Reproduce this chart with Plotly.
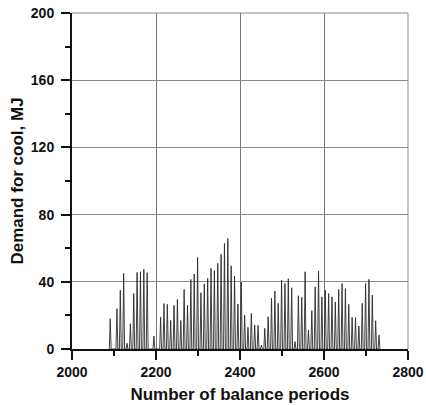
import plotly.graph_objects as go

# Daily peak of cooling demand (MJ); one peak every 8 balance periods
first_period = 2091
period_step = 8
daily_peaks = [
    18.0, 0.0, 24.0, 35.0, 45.0, 3.4, 15.0, 33.0, 45.6, 46.0,
    47.4, 45.4, 0.0, 7.7, 0.0, 19.0, 27.0, 26.6, 17.0, 26.0,
    29.5, 17.0, 35.5, 26.0, 41.4, 44.6, 54.5, 33.5, 38.7, 42.0,
    48.0, 46.6, 51.0, 56.3, 62.8, 65.8, 49.5, 43.4, 26.8, 39.8,
    20.2, 12.9, 21.2, 14.3, 14.1, 2.4, 12.3, 19.2, 30.2, 34.5,
    27.2, 41.0, 39.0, 41.8, 36.5, 4.4, 31.7, 30.7, 46.0, 11.3,
    22.8, 37.0, 46.4, 31.0, 35.0, 33.0, 31.0, 28.0, 35.5, 39.0,
    36.0, 26.6, 18.8, 18.8, 13.7, 27.2, 39.0, 41.4, 32.1, 16.8,
    8.3,
]
peak_periods = [first_period + period_step * k for k in range(len(daily_peaks))]

x_ticks = [2000, 2200, 2400, 2600, 2800]
y_ticks = [0, 40, 80, 120, 160, 200]

# Each day is a narrow pulse: zero, peak, zero
half_width = 2.2
xs, ys = [], []
for p, v in zip(peak_periods, daily_peaks):
    xs += [p - half_width, p, p + half_width]
    ys += [0, v, 0]

fig = go.Figure()
fig.add_trace(go.Scatter(
    x=xs, y=ys, mode="lines",
    line=dict(color="#2a2a2a", width=0.9),
    hoverinfo="skip", showlegend=False,
))

font_main = dict(family="Liberation Sans, Arial, sans-serif", size=14, color="#111111")

fig.update_layout(
    width=426, height=405,
    margin=dict(l=72, r=18, t=13, b=56),
    paper_bgcolor="white", plot_bgcolor="white",
    font=font_main,
    xaxis=dict(
        range=[2000, 2800], tickvals=x_ticks,
        ticktext=[f"<b>{v}</b>" for v in x_ticks],
        automargin=False,
        showgrid=True, gridcolor="#7a7a7a", gridwidth=1,
        zeroline=False, showline=True, linecolor="#111111", linewidth=2,
        ticks="outside", ticklen=9, tickwidth=2, tickcolor="#111111",
        minor=dict(dtick=100, tick0=2000, ticks="outside", ticklen=5,
                   tickwidth=1.5, tickcolor="#111111", showgrid=False),
        title=dict(text="<b>Number of balance periods</b>", standoff=9),
    ),
    yaxis=dict(
        range=[0, 200], tickvals=y_ticks,
        ticktext=[f"<b>{v}</b>" for v in y_ticks],
        automargin=False,
        showgrid=True, gridcolor="#8a8a8a", gridwidth=1,
        zeroline=False, showline=True, linecolor="#111111", linewidth=2,
        ticks="outside", ticklen=9, tickwidth=2, tickcolor="#111111",
        ticklabelstandoff=4,
        minor=dict(dtick=20, tick0=0, ticks="outside", ticklen=5,
                   tickwidth=1.5, tickcolor="#111111", showgrid=False),
        title=dict(text="<b>Demand for cool, MJ</b>", standoff=3),
    ),
)

# Thin grey frame on the top and right sides
fig.add_shape(type="line", xref="paper", yref="paper", x0=0, x1=1, y0=1, y1=1,
              line=dict(color="#8a8a8a", width=1))
fig.add_shape(type="line", xref="paper", yref="paper", x0=1, x1=1, y0=0, y1=1,
              line=dict(color="#8a8a8a", width=1))

fig.write_html("out.html")
